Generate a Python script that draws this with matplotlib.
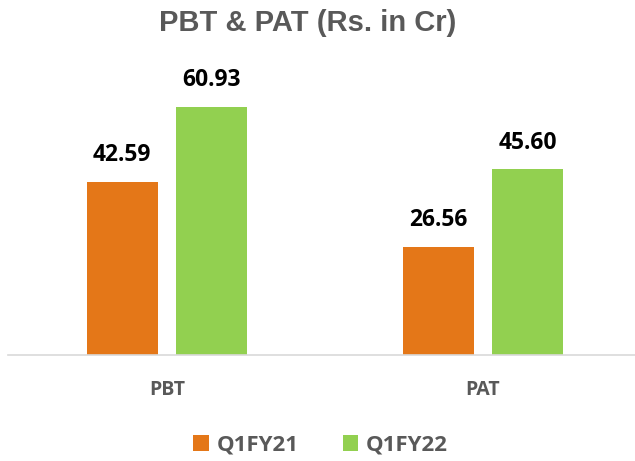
import numpy as np
import matplotlib.pyplot as plt

categories = ["PBT", "PAT"]
q1fy21 = [42.59, 26.56]
q1fy22 = [60.93, 45.60]
series_names = ["Q1FY21", "Q1FY22"]

orange = "#E47718"
green = "#92D050"
gray = "#595959"

fig = plt.figure(figsize=(6.35, 4.61), dpi=100)
ax = fig.add_axes([8 / 635, 106 / 461, 627 / 635, 285 / 461])

x = np.arange(len(categories))
w = 0.225
off = 0.142
b1 = ax.bar(x - off, q1fy21, w, color=orange, label=series_names[0])
b2 = ax.bar(x + off, q1fy22, w, color=green, label=series_names[1])

for bars, vals in [(b1, q1fy21), (b2, q1fy22)]:
    for b, v in zip(bars, vals):
        ax.text(b.get_x() + b.get_width() / 2, v + 3.6, f"{v:.2f}",
                ha="center", va="bottom", fontsize=16.5, fontweight="bold",
                family="Open Sans", color="black")

ax.set_xlim(-0.503, 1.481)
ax.set_ylim(0, 70)
for s in ["top", "right", "left"]:
    ax.spines[s].set_visible(False)
ax.spines["bottom"].set_color("#D9D9D9")
ax.spines["bottom"].set_linewidth(1.2)
ax.set_yticks([])
ax.set_xticks(x)
ax.set_xticklabels(categories, fontsize=14, fontweight="bold", family="Open Sans", color=gray)
ax.tick_params(axis="x", length=0, pad=18)

fig.text(0.485, 1 - 23 / 461, "PBT & PAT (Rs. in Cr)", ha="center", va="center",
         fontsize=21, fontweight="bold", family="Liberation Sans", color=gray)

leg = fig.legend(loc="center", bbox_to_anchor=(0.505, 1 - 445 / 461), ncol=2, frameon=False,
                 prop={"family": "Open Sans", "weight": "bold", "size": 16},
                 handlelength=0.7, handleheight=0.7, handletextpad=0.35, columnspacing=2.0)
for t in leg.get_texts():
    t.set_color(gray)

fig.savefig("out.png", dpi=100)
